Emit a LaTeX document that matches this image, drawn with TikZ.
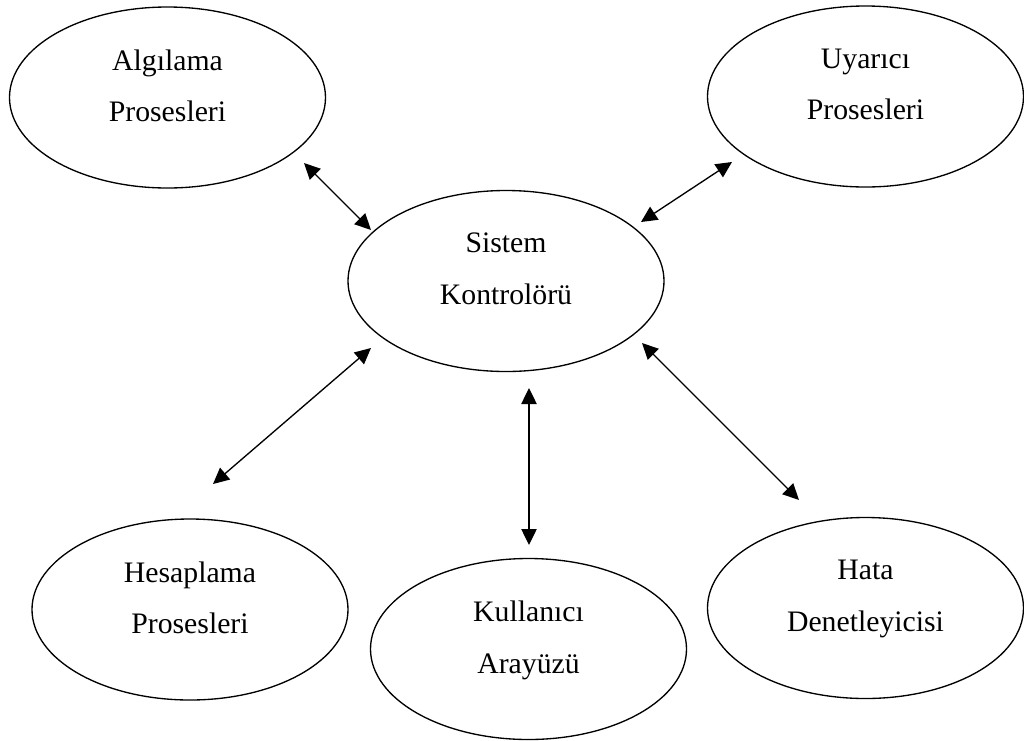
\documentclass[tikz,border=0pt]{standalone}
\usepackage{fontspec}
\setmainfont{Liberation Serif}
\usetikzlibrary{shapes.geometric,arrows.meta}

\tikzset{
  proc/.style={ellipse, draw=black, line width=1pt, minimum width=237pt,
    minimum height=135.75pt, inner sep=0pt, outer sep=0pt},
  lbl/.style={align=center, inner sep=0pt, anchor=north, text=black,
    font=\fontsize{22.3}{38.6}\selectfont},
  tip/.style={Triangle[length=12pt,width=11.5pt]},
  link/.style={line width=1pt, {Triangle[length=12pt,width=11.5pt]}-{Triangle[length=12pt,width=11.5pt]}}
}

\begin{document}
\begin{tikzpicture}[x=0.75pt,y=-0.75pt]
  \useasboundingbox (0,0) rectangle (1024,740);

  % process ellipses
  \node[proc] (alg) at (167.5,97.5) {};
  \node[proc] (uya) at (865.5,96.5) {};
  \node[proc] (sis) at (506,281) {};
  \node[proc] (hes) at (190,609.5) {};
  \node[proc] (kul) at (528.5,649) {};
  \node[proc] (hat) at (865.5,608) {};

  % labels, set a little above each ellipse centre
  \node[lbl] (alg-t) at ([yshift=36pt]alg.center) {Algılama\\Prosesleri};
  \node[lbl] (uya-t) at ([yshift=36pt]uya.center) {Uyarıcı\\Prosesleri};
  \node[lbl] (sis-t) at ([yshift=36pt]sis.center) {Sistem\\Kontrolörü};
  \node[lbl] (hes-t) at ([yshift=36pt]hes.center) {Hesaplama\\Prosesleri};
  \node[lbl] (kul-t) at ([yshift=36pt]kul.center) {Kullanıcı\\Arayüzü};
  \node[lbl] (hat-t) at ([yshift=36pt]hat.center) {Hata\\Denetleyicisi};

  % two-way links to the system controller
  \draw[link] ([shift={(136.5,65.5)}]alg.center) -- ([shift={(-135,-51)}]sis.center);
  \draw[link] ([shift={(135,-59)}]sis.center) -- ([shift={(-133.5,65.5)}]uya.center);
  \draw[link] ([shift={(-135,67)}]sis.center) -- ([shift={(23,-125.5)}]hes.center);
  \draw[link] ([shift={(23,107)}]sis.center) -- ([shift={(0.5,-104)}]kul.center);
  \draw[link] ([shift={(136,62)}]sis.center) -- ([shift={(-66.5,-108)}]hat.center);
\end{tikzpicture}
\end{document}
